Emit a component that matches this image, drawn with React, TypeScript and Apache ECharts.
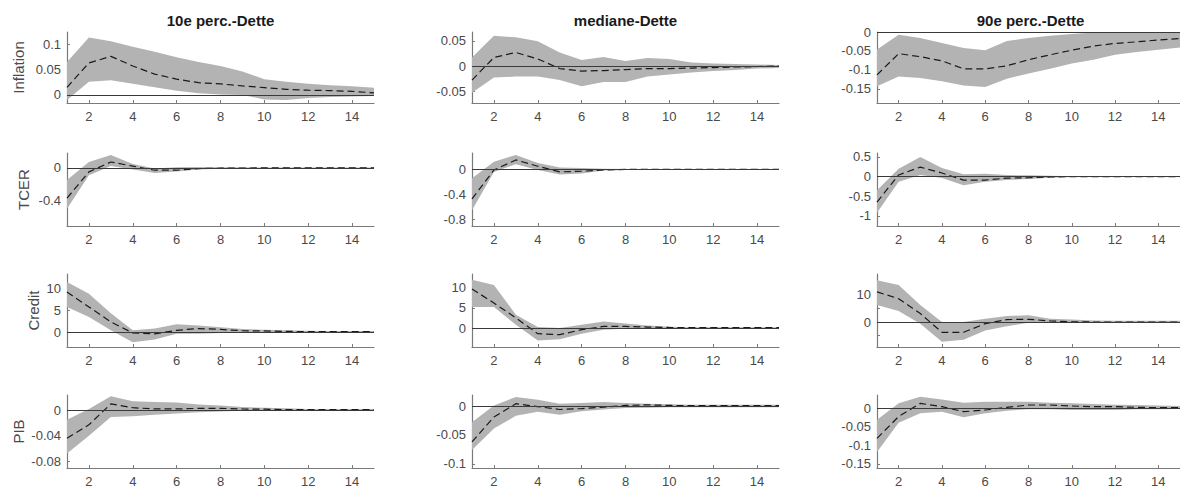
import React, { useEffect, useRef } from "react";
import * as echarts from "echarts";

const steps = [1, 2, 3, 4, 5, 6, 7, 8, 9, 10, 11, 12, 13, 14, 15];
const xTickValues = [2, 4, 6, 8, 10, 12, 14];
const columnTitles = ["10e perc.-Dette", "mediane-Dette", "90e perc.-Dette"];
const rowLabels = ["Inflation", "TCER", "Credit", "PIB"];

// Inflation
const infl10Median = [0.015, 0.063, 0.076, 0.057, 0.041, 0.031, 0.024, 0.0216, 0.0176, 0.0143, 0.011, 0.0092, 0.0085, 0.007, 0.004];
const infl10Upper = [0.065, 0.113, 0.106, 0.095, 0.085, 0.074, 0.065, 0.057, 0.046, 0.031, 0.026, 0.022, 0.019, 0.017, 0.014];
const infl10Lower = [-0.01, 0.026, 0.029, 0.022, 0.015, 0.008, 0.003, 0.001, 0, -0.009, -0.01, -0.006, -0.004, -0.003, -0.002];
const inflMedMedian = [-0.028, 0.017, 0.027, 0.014, -0.005, -0.01, -0.009, -0.007, -0.005, -0.005, -0.004, -0.003, -0.002, -0.001, 0];
const inflMedUpper = [0.017, 0.06, 0.057, 0.049, 0.027, 0.012, 0.018, 0.01, 0.016, 0.014, 0.007, 0.005, 0.004, 0.003, 0.002];
const inflMedLower = [-0.053, -0.023, -0.021, -0.021, -0.028, -0.04, -0.032, -0.032, -0.021, -0.017, -0.013, -0.01, -0.008, -0.005, -0.004];
const infl90Median = [-0.113, -0.057, -0.065, -0.076, -0.097, -0.097, -0.089, -0.073, -0.06, -0.048, -0.037, -0.03, -0.026, -0.021, -0.017];
const infl90Upper = [-0.046, -0.007, -0.016, -0.029, -0.042, -0.048, -0.024, -0.016, -0.01, -0.005, -0.001, 0, 0, 0, 0];
const infl90Lower = [-0.143, -0.117, -0.121, -0.13, -0.141, -0.145, -0.123, -0.109, -0.097, -0.083, -0.073, -0.06, -0.053, -0.047, -0.041];

// TCER
const tcer10Median = [-0.37, -0.05, 0.07, 0.02, -0.03, -0.03, -0.01, -0.005, -0.003, -0.002, -0.001, 0, 0, 0, 0];
const tcer10Upper = [-0.15, 0.07, 0.155, 0.045, -0.01, 0.005, 0.01, 0.007, 0.005, 0.004, 0.003, 0.003, 0.002, 0.002, 0.002];
const tcer10Lower = [-0.5, -0.09, 0.02, -0.02, -0.065, -0.045, -0.02, -0.012, -0.008, -0.006, -0.005, -0.004, -0.003, -0.003, -0.002];
const tcerMedMedian = [-0.47, -0.01, 0.15, 0.05, -0.04, -0.03, -0.01, 0, 0, 0, 0, 0, 0, 0, 0];
const tcerMedUpper = [-0.14, 0.12, 0.23, 0.1, 0.03, 0.02, 0.01, 0.006, 0.005, 0.004, 0.003, 0.003, 0.002, 0.002, 0.002];
const tcerMedLower = [-0.65, -0.04, 0.08, -0.01, -0.08, -0.065, -0.02, -0.01, -0.006, -0.005, -0.004, -0.003, -0.003, -0.002, -0.002];
const tcer90Median = [-0.65, 0.04, 0.24, 0.09, -0.09, -0.09, -0.04, -0.03, -0.01, 0, 0, 0, 0, 0, 0];
const tcer90Upper = [-0.35, 0.2, 0.5, 0.22, 0.06, 0.07, 0.04, 0.03, 0.02, 0.01, 0.01, 0.01, 0.01, 0.01, 0.01];
const tcer90Lower = [-0.92, -0.13, 0.04, -0.04, -0.22, -0.13, -0.09, -0.06, -0.03, -0.01, -0.01, -0.01, -0.01, -0.01, -0.01];

// Credit
const cred10Median = [9.1, 5.7, 2.3, -0.2, -0.4, 0.4, 0.8, 0.6, 0.3, 0.25, 0.15, 0.1, 0.1, 0.1, 0.1];
const cred10Upper = [11.4, 8.7, 4.3, 0.4, 0.8, 1.75, 1.5, 1.1, 0.7, 0.5, 0.4, 0.3, 0.25, 0.25, 0.25];
const cred10Lower = [5.7, 3.4, 0.4, -2.3, -1.7, -0.4, -0.4, -0.2, -0.1, -0.05, -0.05, -0.05, -0.05, -0.05, -0.05];
const credMedMedian = [9.7, 6.2, 2.5, -1.4, -1.65, -0.4, 0.4, 0.4, 0.25, 0.15, 0.1, 0.1, 0.1, 0.1, 0.1];
const credMedUpper = [12, 10.7, 3.3, 0.25, 0, 0.8, 1.65, 1.1, 0.6, 0.3, 0.2, 0.2, 0.2, 0.2, 0.2];
const credMedLower = [5.2, 5.2, 0.8, -3.1, -2.8, -1.4, -0.4, -0.15, 0, -0.05, -0.05, -0.05, -0.05, -0.05, -0.05];
const cred90Median = [11, 8.5, 3.1, -3.75, -3.75, -0.6, 0.9, 1.0, 0.4, 0.1, 0, 0, 0, 0, 0];
const cred90Upper = [15.2, 13.5, 6.2, 0, 0, 1.2, 2.2, 2.5, 1.2, 0.9, 0.6, 0.5, 0.5, 0.5, 0.5];
const cred90Lower = [6.2, 4, -0.6, -7.2, -6.5, -3.1, -1.5, -0.25, -0.25, -0.3, -0.3, -0.2, -0.2, -0.2, -0.2];

// PIB
const pib10Median = [-0.044, -0.023, 0.01, 0.004, 0.002, 0.002, 0.003, 0.003, 0.002, 0.0016, 0.001, 0.001, 0.001, 0.001, 0.001];
const pib10Upper = [-0.015, 0.002, 0.022, 0.014, 0.013, 0.012, 0.009, 0.0075, 0.005, 0.004, 0.003, 0.002, 0.002, 0.002, 0.002];
const pib10Lower = [-0.068, -0.04, -0.0106, -0.0096, -0.007, -0.005, -0.003, -0.002, -0.001, -0.001, -0.001, -0.001, -0.001, -0.001, -0.001];
const pibMedMedian = [-0.062, -0.019, 0.004, -0.001, -0.006, -0.0045, -0.002, 0.001, 0.002, 0.001, 0.0005, 0.0005, 0.0005, 0.0005, 0.0005];
const pibMedUpper = [-0.028, 0.001, 0.0155, 0.011, 0.004, 0.005, 0.007, 0.005, 0.004, 0.003, 0.002, 0.002, 0.002, 0.002, 0.002];
const pibMedLower = [-0.076, -0.039, -0.017, -0.01, -0.015, -0.009, -0.006, -0.0035, -0.003, -0.002, -0.002, -0.002, -0.002, -0.002, -0.002];
const pib90Median = [-0.081, -0.022, 0.0135, 0.0045, -0.009, -0.0045, 0.0027, 0.009, 0.009, 0.0063, 0.0045, 0.0045, 0.0027, 0.0018, 0.0018];
const pib90Upper = [-0.031, 0.0135, 0.031, 0.024, 0.015, 0.018, 0.018, 0.018, 0.015, 0.0135, 0.012, 0.01, 0.009, 0.008, 0.0063];
const pib90Lower = [-0.118, -0.039, -0.0135, -0.009, -0.024, -0.0135, -0.0063, -0.0027, -0.0027, -0.0045, -0.0045, -0.0045, -0.0027, -0.0027, -0.0018];

// y-axis ranges and ticks, row-major
const yMins = [-0.016, -0.0735, -0.187, -0.71, -0.9, -1.26, -3.4, -4.7, -9.1, -0.091, -0.107, -0.161];
const yMaxs = [0.124, 0.0676, 0.0, 0.18, 0.26, 0.6, 13.2, 13.4, 17.5, 0.024, 0.019, 0.036];
const yTickLabels = [
  [0, 0.05, 0.1], [-0.05, 0, 0.05], [-0.15, -0.1, -0.05, 0],
  [-0.4, 0], [-0.8, -0.4, 0], [-1, -0.5, 0, 0.5],
  [0, 5, 10], [0, 5, 10], [0, 10],
  [-0.08, -0.04, 0], [-0.1, -0.05, 0], [-0.15, -0.1, -0.05, 0],
];
const yTickMarks = [
  [0, 0.05, 0.1], [-0.05, 0, 0.05], [-0.15, -0.1, -0.05, 0],
  [-0.4, 0], [-0.8, -0.4, 0], [-1, -0.5, 0, 0.5],
  [0, 5, 10], [0, 5, 10], [-5, 0, 5, 10, 15],
  [-0.08, -0.04, 0], [-0.1, -0.05, 0], [-0.15, -0.1, -0.05, 0],
];

const panelData = [
  [infl10Median, infl10Upper, infl10Lower], [inflMedMedian, inflMedUpper, inflMedLower], [infl90Median, infl90Upper, infl90Lower],
  [tcer10Median, tcer10Upper, tcer10Lower], [tcerMedMedian, tcerMedUpper, tcerMedLower], [tcer90Median, tcer90Upper, tcer90Lower],
  [cred10Median, cred10Upper, cred10Lower], [credMedMedian, credMedUpper, credMedLower], [cred90Median, cred90Upper, cred90Lower],
  [pib10Median, pib10Upper, pib10Lower], [pibMedMedian, pibMedUpper, pibMedLower], [pib90Median, pib90Upper, pib90Lower],
];

const FONT = "'Liberation Sans', Arial, Helvetica, sans-serif";
const colLeft = [67, 472, 877];
const colWidth = 307;
const rowTop = [32, 153, 274, 395];
const rowHeight = [71, 73, 73, 73];
const rowLabelX = [18, 23, 33, 18];
const bandColor = "#b3b3b3";
const axisColor = "#7a7a7a";
const textColor = "#4a4a4a";

export default function App() {
  const ref = useRef<HTMLDivElement>(null);
  useEffect(() => {
    document.body.style.margin = "0";
    const chart = echarts.init(ref.current!, null, { renderer: "svg" });
    const grid: any[] = [];
    const xAxis: any[] = [];
    const yAxis: any[] = [];
    const series: any[] = [];
    const graphic: any[] = [];

    for (let r = 0; r < 4; r++) {
      for (let c = 0; c < 3; c++) {
        const idx = r * 3 + c;
        const [median, upper, lower] = panelData[idx];
        grid.push({ left: colLeft[c], top: rowTop[r], width: colWidth, height: rowHeight[r], containLabel: false });
        xAxis.push({
          type: "value", gridIndex: idx, min: 1, max: 15,
          axisLine: { onZero: false, lineStyle: { color: axisColor, width: 1.2 } },
          axisTick: { inside: true, length: 3, customValues: xTickValues, lineStyle: { color: axisColor } },
          axisLabel: { customValues: xTickValues, color: textColor, fontSize: 13, fontFamily: FONT, margin: 7 },
          splitLine: { show: false },
        });
        yAxis.push({
          type: "value", gridIndex: idx, min: yMins[idx], max: yMaxs[idx],
          axisLine: { show: true, onZero: false, lineStyle: { color: axisColor, width: 1.2 } },
          axisTick: { show: true, inside: true, length: 3, customValues: yTickMarks[idx], lineStyle: { color: axisColor } },
          axisLabel: {
            customValues: yTickLabels[idx], color: textColor, fontSize: 13, fontFamily: FONT, margin: 6,
            formatter: (v: number) => String(Math.round(v * 1000) / 1000),
          },
          splitLine: { show: false },
        });
        series.push({
          type: "custom", xAxisIndex: idx, yAxisIndex: idx, clip: true, silent: true,
          data: steps.map((x, i) => [x, upper[i], lower[i]]),
          encode: { x: 0, y: [1, 2] },
          renderItem: (params: any, api: any) => {
            if (params.dataIndex !== 0) return { type: "group", children: [] };
            const top = upper.map((v, i) => api.coord([steps[i], v]));
            const bottom = lower.map((v, i) => api.coord([steps[i], v])).reverse();
            return { type: "polygon", shape: { points: top.concat(bottom) }, style: { fill: bandColor, stroke: "none" } };
          },
        });
        series.push({
          type: "line", xAxisIndex: idx, yAxisIndex: idx, silent: true,
          data: steps.map((x, i) => [x, median[i]]),
          showSymbol: false, symbol: "none",
          lineStyle: { color: "#1a1a1a", width: 1.2, type: [7, 4] },
          markLine: {
            silent: true, symbol: "none", label: { show: false },
            lineStyle: { color: "#3a3a3a", width: 1.2, type: "solid" },
            data: [{ yAxis: 0 }],
          },
          z: 3,
        });
      }
      graphic.push({
        type: "text", x: rowLabelX[r], y: rowTop[r] + rowHeight[r] / 2, rotation: Math.PI / 2,
        style: { text: rowLabels[r], fill: textColor, font: `15px ${FONT}`, textAlign: "center", textVerticalAlign: "middle" },
      });
    }
    for (let c = 0; c < 3; c++) {
      graphic.push({
        type: "text", x: colLeft[c] + colWidth / 2, y: 20,
        style: { text: columnTitles[c], fill: "#1a1a1a", font: `bold 15px ${FONT}`, textAlign: "center", textVerticalAlign: "middle" },
      });
    }

    chart.setOption({ animation: false, backgroundColor: "#ffffff", grid, xAxis, yAxis, series, graphic });
    return () => chart.dispose();
  }, []);
  return <div ref={ref} style={{ width: 1180, height: 493 }} />;
}
